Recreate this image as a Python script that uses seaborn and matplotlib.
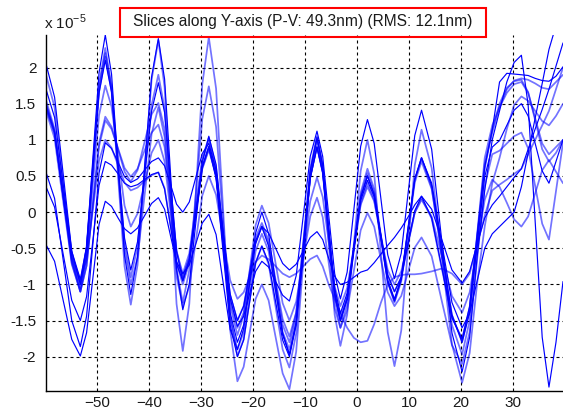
import numpy as np
import pandas as pd
import matplotlib
matplotlib.use("Agg")
import matplotlib.pyplot as plt
import seaborn as sns
from matplotlib.patches import Rectangle

# ==========================================
# Data (units of 1e-5)
# ==========================================
x_pos = [-59.8, -58.15, -56.5, -54.85,
         -53.2, -52.0, -50.8, -49.6,
         -48.4, -47.2, -45.95, -44.7,
         -43.5, -42.2, -40.85, -39.5,
         -38.2, -37.0, -35.85, -34.7,
         -33.5, -32.25, -31.0, -29.75,
         -28.5, -27.1, -25.75, -24.4,
         -23.0, -21.8, -20.65, -19.5,
         -18.3, -17.0, -15.65, -14.3,
         -13.0, -11.7, -10.35, -9.0,
         -7.7, -6.6, -5.45, -4.3,
         -3.2, -1.9, -0.6, 0.7,
         2.0, 3.3, 4.6, 5.9,
         7.2, 8.5, 9.8, 11.1,
         12.4, 14.35, 16.3, 18.25,
         20.2, 21.65, 23.1, 24.55,
         26.0, 27.4, 28.8, 30.2,
         31.6, 32.9, 34.25, 35.6,
         36.9, 38.25,
         39.6]

slice_a = [2.05, 1.59, 0.53, -0.54, -1.00, -0.48, 0.73, 1.93, 2.45, 1.91, 0.66, -0.60,
           -1.14, -0.61, 0.63, 1.87, 2.40, 1.84, 0.53, -0.79, -1.35, -0.99, -0.15, 0.69,
           1.05, 0.66, -0.27, -1.19, -1.58, -1.44, -1.13, -0.82, -0.68, -0.76, -0.96, -1.15,
           -1.23, -0.88, -0.06, 0.77, 1.12, 0.77, -0.04, -0.85, -1.20, -0.83, 0.04, 0.91,
           1.28, 0.95, 0.18, -0.59, -0.92, -0.57, 0.25, 1.06, 1.41, 0.87, -0.40, -1.67,
           -2.21, -1.73, -0.61, 0.30, 1.00, 1.40, 1.80, 2.07, 2.17, 1.48, -0.13, -1.73,
           -2.42, -1.80, -0.96]
slice_b = [1.50, 1.12, 0.23, -0.67, -1.05, -0.55, 0.61, 1.77, 2.27, 1.74, 0.50, -0.75,
           -1.28, -0.73, 0.55, 1.83, 2.38, 1.73, 0.23, -1.27, -1.92, -1.27, 0.25, 1.77,
           2.42, 1.71, 0.04, -1.63, -2.34, -2.14, -1.67, -1.20, -1.00, -1.22, -1.73, -2.23,
           -2.45, -1.93, -0.71, 0.51, 1.03, 0.60, -0.41, -1.42, -1.85, -1.42, -0.43, 0.57,
           1.00, 0.53, -0.57, -1.66, -2.13, -1.64, -0.50, 0.65, 1.14, 0.61, -0.61, -1.83,
           -2.36, -1.95, -0.98, -0.20, 0.40, 0.75, 1.15, 1.48, 1.60, 1.54, 1.40, 1.26,
           1.20, 1.33, 1.50]
slice_c = [1.45, 1.09, 0.24, -0.61, -0.97, -0.49, 0.62, 1.72, 2.20, 1.73, 0.65, -0.43,
           -0.90, -0.48, 0.50, 1.48, 1.90, 1.43, 0.33, -0.78, -1.25, -0.80, 0.25, 1.29,
           1.74, 1.18, -0.13, -1.43, -1.99, -1.76, -1.23, -0.70, -0.47, -0.72, -1.31, -1.90,
           -2.15, -1.68, -0.58, 0.53, 1.00, 0.62, -0.25, -1.12, -1.50, -1.19, -0.48, 0.23,
           0.54, 0.27, -0.35, -0.96, -1.23, -0.93, -0.24, 0.45, 0.75, 0.34, -0.61, -1.56,
           -1.97, -1.50, -0.42, 0.60, 1.14, 1.50, 1.72, 1.81, 1.83, 1.66, 1.27, 0.87,
           0.70, 0.82, 1.00]
slice_d = [1.70, 1.31, 0.39, -0.54, -0.93, -0.48, 0.59, 1.65, 2.10, 1.66, 0.65, -0.36,
           -0.80, -0.41, 0.50, 1.40, 1.79, 1.38, 0.42, -0.54, -0.95, -0.67, -0.02, 0.63,
           0.91, 0.50, -0.45, -1.39, -1.80, -1.56, -1.00, -0.44, -0.20, -0.47, -1.09, -1.70,
           -1.97, -1.54, -0.54, 0.47, 0.90, 0.55, -0.25, -1.05, -1.40, -1.12, -0.48, 0.16,
           0.44, 0.21, -0.33, -0.87, -1.10, -0.90, -0.44, 0.02, 0.22, -0.08, -0.77, -1.46,
           -1.76, -1.30, -0.31, 0.62, 1.14, 1.80, 1.92, 1.91, 1.90, 1.89, 1.85, 1.82,
           1.81, 1.88, 2.01]
slice_e = [1.55, 1.15, 0.23, -0.70, -1.10, -0.74, 0.11, 0.96, 1.32, 1.18, 0.87, 0.56,
           0.42, 0.58, 0.97, 1.35, 1.51, 1.15, 0.31, -0.54, -0.90, -0.64, -0.02, 0.60,
           0.86, 0.51, -0.32, -1.15, -1.50, -1.30, -0.83, -0.35, -0.15, -0.39, -0.94, -1.48,
           -1.72, -1.39, -0.62, 0.15, 0.48, 0.21, -0.41, -1.03, -1.30, -1.05, -0.48, 0.10,
           0.35, 0.15, -0.33, -0.80, -1.00, -0.82, -0.42, -0.01, 0.17, -0.06, -0.61, -1.16,
           -1.39, -1.11, -0.47, 0.17, 0.45, 0.35, 0.13, -0.10, -0.20, -0.06, 0.26, 0.58,
           0.72, 0.56, 0.40]
slice_f = [1.40, 1.02, 0.15, -0.72, -1.10, -0.74, 0.09, 0.91, 1.27, 1.15, 0.88, 0.61,
           0.49, 0.60, 0.85, 1.10, 1.21, 0.90, 0.18, -0.54, -0.85, -0.57, 0.09, 0.75,
           1.03, 0.62, -0.34, -1.29, -1.70, -1.43, -0.81, -0.18, 0.09, -0.15, -0.71, -1.26,
           -1.50, -1.24, -0.65, -0.06, 0.20, -0.07, -0.70, -1.33, -1.60, -1.36, -0.81, -0.25,
           -0.01, -0.20, -0.66, -1.11, -1.30, -1.16, -0.83, -0.49, -0.35, -0.61, -1.23, -1.84,
           -2.10, -1.66, -0.65, 0.36, 0.80, 0.85, 0.95, 1.05, 1.10, 0.88, 0.36, -0.16,
           -0.38, 0.29, 0.96]
slice_g = [0.55, 0.19, -0.66, -1.50, -1.86, -1.44, -0.45, 0.54, 0.96, 0.88, 0.69, 0.49,
           0.41, 0.46, 0.58, 0.70, 0.75, 0.64, 0.38, 0.11, 0.00, 0.14, 0.48, 0.81,
           0.95, 0.58, -0.28, -1.13, -1.50, -1.30, -0.85, -0.40, -0.20, -0.29, -0.50, -0.71,
           -0.80, -0.72, -0.54, -0.35, -0.27, -0.38, -0.64, -0.89, -1.00, -0.97, -0.90, -0.83,
           -0.80, -0.70, -0.58, -0.46, -0.35, -0.22, -0.07, 0.10, 0.22, 0.04, -0.38, -0.80,
           -0.98, -0.82, -0.44, -0.08, 0.10, 0.22, 0.35, 0.48, 0.60, 0.87, 1.15, 1.42,
           1.70, 2.02, 2.34]
slice_h = [-0.45, -0.68, -1.22, -1.76, -1.99, -1.67, -0.92, -0.17, 0.15, 0.08, -0.08, -0.23,
           -0.30, -0.22, -0.05, 0.12, 0.20, 0.04, -0.33, -0.69, -0.85, -0.73, -0.44, -0.15,
           -0.03, -0.31, -0.97, -1.62, -1.90, -1.61, -0.95, -0.29, 0.00, -0.30, -0.99, -1.67,
           -1.97, -1.52, -0.47, 0.58, 1.03, 0.65, -0.24, -1.12, -1.50, -1.20, -0.50, 0.20,
           0.50, 0.24, -0.37, -0.97, -1.23, -0.93, -0.24, 0.45, 0.75, 0.40, -0.43, -1.25,
           -1.60, -1.40, -0.95, -0.50, -0.30, -0.20, -0.10, 0.00, 0.35, 0.82, 1.30, 1.78,
           2.25, 2.58, 2.90]
slice_i = [0.35, 0.07, -0.58, -1.22, -1.50, -1.17, -0.40, 0.37, 0.70, 0.65, 0.53, 0.40,
           0.35, 0.38, 0.45, 0.52, 0.55, 0.32, -0.20, -0.72, -0.95, -0.67, -0.03, 0.62,
           0.90, 0.46, -0.55, -1.56, -2.00, -1.77, -1.24, -0.70, -0.47, -0.70, -1.24, -1.77,
           -2.00, -1.56, -0.55, 0.46, 0.90, 0.54, -0.30, -1.14, -1.50, -1.20, -0.50, 0.20,
           0.50, 0.24, -0.35, -0.94, -1.20, -0.91, -0.23, 0.46, 0.75, 0.37, -0.53, -1.42,
           -1.80, -1.39, -0.45, 0.49, 0.90, 0.99, 1.20, 1.41, 1.50, 1.33, 0.95, 0.57,
           0.40, 0.70, 1.00]
slice_j = [1.90, 1.45, 0.40, -0.65, -1.10, -0.61, 0.53, 1.66, 2.15, 1.68, 0.58, -0.53,
           -1.00, -0.63, 0.23, 1.08, 1.45, 1.04, 0.08, -0.89, -1.30, -1.03, -0.40, 0.23,
           0.50, 0.24, -0.35, -0.94, -1.20, -1.11, -0.90, -0.69, -0.60, -0.65, -0.75, -0.85,
           -0.90, -0.85, -0.75, -0.65, -0.60, -0.75, -1.00, -1.20, -1.40, -1.60, -1.74, -1.80,
           -1.78, -1.55, -1.25, -1.00, -0.90, -0.87, -0.86, -0.86, -0.85, -0.82, -0.78, -0.85,
           -1.00, -0.85, -0.45, -0.05, 0.30, 0.38, 0.45, 0.53, 0.60, 0.80, 1.00, 1.20,
           1.40, 1.70, 2.00]
slice_k = [1.48, 1.11, 0.24, -0.63, -1.00, -0.59, 0.38, 1.34, 1.75, 1.46, 0.78, 0.09,
           -0.20, -0.02, 0.40, 0.82, 1.00, 0.70, 0.00, -0.70, -1.00, -0.70, 0.00, 0.70,
           1.00, 0.56, -0.45, -1.46, -1.90, -1.66, -1.10, -0.54, -0.30, -0.54, -1.10, -1.66,
           -1.90, -1.46, -0.43, 0.61, 1.05, 0.65, -0.28, -1.20, -1.60, -1.27, -0.50, 0.27,
           0.60, 0.32, -0.33, -0.97, -1.25, -0.96, -0.28, 0.41, 0.70, 0.32, -0.55, -1.42,
           -1.80, -1.35, -0.30, 0.75, 1.20, 1.45, 1.65, 1.77, 1.80, 1.65, 1.30, 0.95,
           0.80, 0.90, 1.00]
slice_l = [1.45, 1.09, 0.25, -0.59, -0.95, -0.66, 0.03, 0.71, 1.00, 0.89, 0.65, 0.41,
           0.30, 0.34, 0.43, 0.51, 0.55, 0.33, -0.18, -0.68, -0.90, -0.63, -0.01, 0.61,
           0.88, 0.51, -0.36, -1.23, -1.60, -1.39, -0.90, -0.41, -0.20, -0.44, -1.00, -1.56,
           -1.80, -1.39, -0.45, 0.49, 0.90, 0.55, -0.28, -1.10, -1.45, -1.17, -0.53, 0.12,
           0.40, 0.17, -0.35, -0.87, -1.10, -0.90, -0.45, 0.00, 0.20, -0.09, -0.78, -1.46,
           -1.75, -1.32, -0.33, 0.67, 1.10, 1.45, 1.70, 1.82, 1.85, 1.83, 1.78, 1.72,
           1.70, 1.80, 1.90]

solid_slices = [slice_a, slice_d, slice_g, slice_h, slice_i]
faded_slices = [slice_b, slice_c, slice_e, slice_f, slice_j, slice_k, slice_l]

x_ticks = [-50, -40, -30, -20, -10, 0, 10, 20, 30]
y_ticks = [-2, -1.5, -1, -0.5, 0, 0.5, 1, 1.5, 2]
title_text = "Slices along Y-axis (P-V: 49.3nm) (RMS: 12.1nm)"

# ==========================================
# Plot
# ==========================================
sns.set_style("white")
plt.rcParams['font.family'] = ['Liberation Sans', 'DejaVu Sans']

W, H = 563, 413
fig = plt.figure(figsize=(W / 100, H / 100), dpi=100)
ax = fig.add_axes([46 / W, (H - 390.7) / H, 1 - 46 / W, (390.7 - 35) / H])

for vals in faded_slices:
    sns.lineplot(x=x_pos, y=vals, ax=ax, color='#0000ff', alpha=0.55, lw=1.25, estimator=None)
for vals in solid_slices:
    sns.lineplot(x=x_pos, y=vals, ax=ax, color='#0000ff', alpha=1.0, lw=0.85, estimator=None)

ax.set_xlim(-59.8, 39.6)
ax.set_ylim(-2.47, 2.45)
ax.set_xticks(x_ticks)
ax.set_yticks(y_ticks)
ax.set_yticklabels([f"{v:g}" for v in y_ticks])
ax.tick_params(length=0, labelsize=11, colors='#1a1a1a')
ax.tick_params(axis='y', pad=7)
ax.tick_params(axis='x', pad=4)
ax.grid(True, color='black', lw=0.8, linestyle=(0, (2.7, 2.7)))
for side in ['top', 'right']:
    ax.spines[side].set_visible(False)
for side in ['left', 'bottom']:
    ax.spines[side].set_color('black')
    ax.spines[side].set_linewidth(1.0)

fig.text(44 / W, 1 - 29 / H, r'x 10$^{\mathregular{-5}}$', fontsize=11, color='#1a1a1a')

fig.patches.append(Rectangle((120 / W, 1 - 36.5 / H), 366 / W, 29 / H,
                             transform=fig.transFigure, fill=False,
                             edgecolor='#ff0000', lw=1.5))
fig.text(303 / W, 1 - 21.5 / H, title_text, ha='center', va='center',
         fontsize=11.2, color='#1a1a1a')

fig.savefig('out.png', dpi=100)
